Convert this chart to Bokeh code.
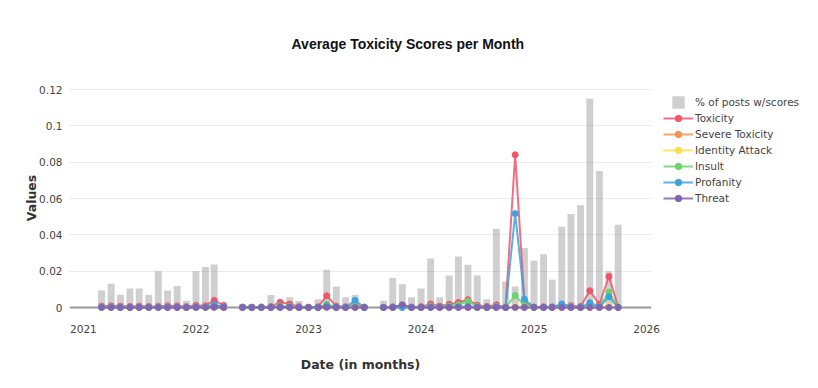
import numpy as np
import pandas as pd
from bokeh.plotting import figure
from bokeh.models import (ColumnDataSource, Legend, LegendItem, FixedTicker, Title,
                          DatetimeTickFormatter, CustomJSTickFormatter, Span, Range1d)
from bokeh.embed import file_html
from bokeh.resources import INLINE

# ---------------- data ----------------
months = [
    "2021-03", "2021-04", "2021-05", "2021-06", "2021-07", "2021-08", "2021-09", "2021-10", "2021-11", "2021-12",
    "2022-01", "2022-02", "2022-03", "2022-04", "2022-05", "2022-06", "2022-07", "2022-08", "2022-09", "2022-10",
    "2022-11", "2022-12", "2023-01", "2023-02", "2023-03", "2023-04", "2023-05", "2023-06", "2023-07", "2023-08",
    "2023-09", "2023-10", "2023-11", "2023-12", "2024-01", "2024-02", "2024-03", "2024-04", "2024-05", "2024-06",
    "2024-07", "2024-08", "2024-09", "2024-10", "2024-11", "2024-12", "2025-01", "2025-02", "2025-03", "2025-04",
    "2025-05", "2025-06", "2025-07", "2025-08", "2025-09", "2025-10",
]

pct_posts = [
    0.0094, 0.0131, 0.0070, 0.0105, 0.0105, 0.0070, 0.0200, 0.0094, 0.0118, 0.0037,
    0.0200, 0.0223, 0.0237, 0.0000, None, 0.0020, 0.0020, 0.0000, 0.0069, 0.0000,
    0.0056, 0.0036, 0.0000, 0.0045, 0.0208, 0.0116, 0.0056, 0.0069, 0.0008, None,
    0.0037, 0.0163, 0.0128, 0.0057, 0.0104, 0.0270, 0.0057, 0.0176, 0.0281, 0.0235,
    0.0176, 0.0045, 0.0433, 0.0143, 0.0116, 0.0327, 0.0258, 0.0293, 0.0153, 0.0445,
    0.0515, 0.0563, 0.1150, 0.0751, 0.0199, 0.0456,
]

toxicity = [
    0.0008, 0.0010, 0.0008, 0.0006, 0.0008, 0.0006, 0.0007, 0.0010, 0.0009, 0.0005,
    0.0012, 0.0010, 0.0039, 0.0012, None, 0.0003, 0.0002, 0.0003, 0.0005, 0.0029,
    0.0019, 0.0005, 0.0002, 0.0004, 0.0065, 0.0008, 0.0004, 0.0015, 0.0003, None,
    0.0002, 0.0004, 0.0012, 0.0003, 0.0005, 0.0020, 0.0008, 0.0018, 0.0028, 0.0043,
    0.0012, 0.0006, 0.0015, 0.0002, 0.0841, 0.0030, 0.0003, 0.0004, 0.0004, 0.0014,
    0.0010, 0.0006, 0.0092, 0.0018, 0.0171, 0.0002,
]

severe_toxicity = [
    0.0001, 0.0001, 0.0000, 0.0000, 0.0001, 0.0000, 0.0001, 0.0001, 0.0001, 0.0000,
    0.0001, 0.0001, 0.0002, 0.0001, None, 0.0000, 0.0000, 0.0000, 0.0000, 0.0001,
    0.0001, 0.0000, 0.0000, 0.0000, 0.0002, 0.0000, 0.0000, 0.0001, 0.0000, None,
    0.0000, 0.0000, 0.0001, 0.0000, 0.0000, 0.0001, 0.0000, 0.0001, 0.0001, 0.0002,
    0.0000, 0.0000, 0.0001, 0.0000, 0.0004, 0.0001, 0.0000, 0.0000, 0.0000, 0.0001,
    0.0000, 0.0000, 0.0003, 0.0001, 0.0006, 0.0000,
]

identity_attack = [
    0.0002, 0.0002, 0.0001, 0.0001, 0.0002, 0.0001, 0.0002, 0.0002, 0.0001, 0.0001,
    0.0002, 0.0002, 0.0003, 0.0002, None, 0.0000, 0.0000, 0.0000, 0.0001, 0.0003,
    0.0002, 0.0001, 0.0000, 0.0001, 0.0004, 0.0001, 0.0001, 0.0002, 0.0000, None,
    0.0000, 0.0001, 0.0002, 0.0001, 0.0001, 0.0003, 0.0001, 0.0002, 0.0003, 0.0004,
    0.0001, 0.0001, 0.0002, 0.0000, 0.0006, 0.0002, 0.0000, 0.0001, 0.0001, 0.0002,
    0.0001, 0.0001, 0.0004, 0.0002, 0.0008, 0.0000,
]

insult = [
    0.0003, 0.0004, 0.0003, 0.0002, 0.0003, 0.0002, 0.0003, 0.0004, 0.0003, 0.0002,
    0.0004, 0.0003, 0.0008, 0.0004, None, 0.0001, 0.0001, 0.0001, 0.0002, 0.0008,
    0.0006, 0.0002, 0.0001, 0.0002, 0.0018, 0.0003, 0.0002, 0.0010, 0.0001, None,
    0.0001, 0.0002, 0.0004, 0.0001, 0.0002, 0.0008, 0.0003, 0.0008, 0.0015, 0.0035,
    0.0005, 0.0002, 0.0006, 0.0001, 0.0066, 0.0012, 0.0001, 0.0001, 0.0002, 0.0008,
    0.0004, 0.0002, 0.0012, 0.0006, 0.0085, 0.0001,
]

profanity = [
    0.0002, 0.0002, 0.0001, 0.0001, 0.0002, 0.0001, 0.0002, 0.0002, 0.0002, 0.0001,
    0.0003, 0.0002, 0.0017, 0.0003, None, 0.0000, 0.0000, 0.0001, 0.0001, 0.0004,
    0.0003, 0.0001, 0.0000, 0.0001, 0.0010, 0.0002, 0.0001, 0.0040, 0.0000, None,
    0.0000, 0.0001, 0.0000, 0.0001, 0.0001, 0.0003, 0.0002, 0.0003, 0.0004, 0.0006,
    0.0002, 0.0001, 0.0003, 0.0000, 0.0517, 0.0046, 0.0001, 0.0001, 0.0002, 0.0020,
    0.0003, 0.0002, 0.0026, 0.0004, 0.0059, 0.0000,
]

threat = [
    0.0000, 0.0000, 0.0000, 0.0000, 0.0000, 0.0000, 0.0000, 0.0000, 0.0000, 0.0000,
    0.0000, 0.0000, 0.0001, 0.0000, None, 0.0000, 0.0000, 0.0000, 0.0000, 0.0000,
    0.0000, 0.0000, 0.0000, 0.0000, 0.0001, 0.0000, 0.0000, 0.0000, 0.0000, None,
    0.0000, 0.0000, 0.0015, 0.0000, 0.0000, 0.0000, 0.0000, 0.0000, 0.0000, 0.0000,
    0.0000, 0.0000, 0.0000, 0.0000, 0.0000, 0.0000, 0.0000, 0.0000, 0.0000, 0.0000,
    0.0000, 0.0000, 0.0000, 0.0000, 0.0000, 0.0000,
]

series_names = ["Toxicity", "Severe Toxicity", "Identity Attack", "Insult", "Profanity", "Threat"]
series_values = [toxicity, severe_toxicity, identity_attack, insult, profanity, threat]
series_colors = ["#f3546a", "#f7934c", "#fbdf4c", "#6dd468", "#3ea2de", "#8264b2"]

y_ticks = [0, 0.02, 0.04, 0.06, 0.08, 0.1, 0.12]
x_tick_years = ["2021", "2022", "2023", "2024", "2025", "2026"]

# ---------------- build ----------------
def to_float(arr):
    return np.array([np.nan if v is None else v for v in arr], dtype=float)

dates = pd.to_datetime(months)
data = {"date": dates, "pct": to_float(pct_posts)}
for i, vals in enumerate(series_values):
    data[f"s{i}"] = to_float(vals)
src = ColumnDataSource(data)

FW, FH = 582, 231
p = figure(frame_width=FW, frame_height=FH, x_axis_type="datetime",
           output_backend="svg", toolbar_location=None, title=None,
           x_range=Range1d(pd.Timestamp("2020-11-17"), pd.Timestamp("2026-01-17")),
           y_range=Range1d(-0.0033, 0.1239),
           min_border_left=69, min_border_right=10, min_border_top=82, min_border_bottom=67)
p.outline_line_color = None
p.background_fill_color = "white"
p.border_fill_color = "white"

bar_width_ms = 0.8 * 28 * 24 * 3600 * 1000
bars = p.vbar(x="date", top="pct", bottom=0, width=bar_width_ms, source=src,
              fill_color="#888888", fill_alpha=0.4, line_color=None)

zero = Span(location=0, dimension="width", line_color="#9a9a9a", line_width=2, level="underlay")
p.add_layout(zero)

# legend swatch for the bars: a small grey square (one NaN point, never drawn in the plot)
bar_swatch = p.scatter(x=[np.nan], y=[np.nan], marker="square", size=6,
                       fill_color="#cfcfcf", line_color="#cfcfcf", line_width=6,
                       line_join="miter")

items = [LegendItem(label="% of posts w/scores", renderers=[bar_swatch])]
for i, (name, col) in enumerate(zip(series_names, series_colors)):
    lr = p.line(x="date", y=f"s{i}", source=src, line_color=col, line_width=2, line_alpha=0.85)
    sr = p.scatter(x="date", y=f"s{i}", source=src, size=6, fill_color=col, line_color=col)
    items.append(LegendItem(label=name, renderers=[lr, sr]))

legend = Legend(items=items, location="top_left", orientation="vertical",
                glyph_width=30, glyph_height=16, label_height=16, spacing=0,
                label_standoff=2, padding=0, margin=12,
                border_line_color=None, background_fill_alpha=0,
                label_text_font="DejaVu Sans", label_text_font_size="10.5px",
                label_text_color="#444444")
p.add_layout(legend, "right")

# title
ttl = Title(text="Average Toxicity Scores per Month", align="left", offset=222, standoff=62,
            text_font="Liberation Sans", text_font_size="14px", text_font_style="bold",
            text_color="#111111")
p.add_layout(ttl, "above")

# axes
ya = p.yaxis[0]
ya.ticker = FixedTicker(ticks=y_ticks)
ya.formatter = CustomJSTickFormatter(code="return String(Number(tick.toFixed(3)));")
ya.axis_label = "Values"
xa = p.xaxis[0]
xa.ticker = FixedTicker(ticks=[pd.Timestamp(y + "-01-01").value / 1e6 for y in x_tick_years])
fmt = "%Y"
xa.formatter = DatetimeTickFormatter(years=fmt, months=fmt, days=fmt, hours=fmt, minutes=fmt,
                                     seconds=fmt, milliseconds=fmt, microseconds=fmt, hourmin=fmt, minsec=fmt)
xa.axis_label = "Date (in months)"

for ax in (xa, ya):
    ax.axis_line_color = None
    ax.major_tick_line_color = None
    ax.minor_tick_line_color = None
    ax.major_label_text_font = "DejaVu Sans"
    ax.major_label_text_font_size = "10.5px"
    ax.major_label_text_color = "#444444"
    ax.axis_label_text_font = "DejaVu Sans"
    ax.axis_label_text_font_size = "12.5px"
    ax.axis_label_text_font_style = "bold"
    ax.axis_label_text_color = "#333333"
ya.major_label_standoff = 1
ya.axis_label_standoff = -3
xa.major_label_standoff = 5
xa.axis_label_standoff = 21

p.xgrid.visible = False
p.ygrid.grid_line_color = "#ececec"
p.ygrid.grid_line_width = 1

open("out.html", "w").write(file_html(p, INLINE))
